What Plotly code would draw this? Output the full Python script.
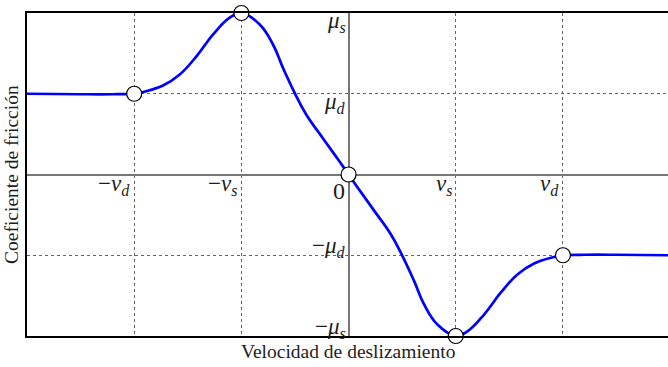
import plotly.graph_objects as go

# Friction coefficient vs sliding velocity (odd function of velocity)
velocity = [-3.0, -2.5, -2.2, -2.0, -1.917, -1.731, -1.575, -1.419, -1.264, -1.109, -1.0,
            -0.829, -0.705, -0.612, -0.503, -0.394, -0.24, -0.084, 0.0,
            0.084, 0.24, 0.394, 0.503, 0.612, 0.705, 0.829,
            1.0, 1.109, 1.264, 1.419, 1.575, 1.731, 1.917, 2.0, 2.2, 2.5, 3.0]
friction = [0.5, 0.497, 0.497, 0.5, 0.511, 0.551, 0.619, 0.732, 0.867, 0.971, 1.0,
            0.929, 0.805, 0.66, 0.505, 0.37, 0.225, 0.08, 0.0,
            -0.08, -0.225, -0.37, -0.505, -0.66, -0.805, -0.929,
            -1.0, -0.971, -0.867, -0.732, -0.619, -0.551, -0.511, -0.5, -0.497, -0.497, -0.5]

# Characteristic points marked on the curve
key_v = [-2.0, -1.0, 0.0, 1.0, 2.0]
key_mu = [0.5, 1.0, 0.0, -1.0, -0.5]

# Tick positions and their symbolic labels
x_tick_vals = [-2.0, -1.0, 1.0, 2.0]
x_tick_text = ["−<i>v</i><sub><i>d</i></sub>", "−<i>v</i><sub><i>s</i></sub>",
               "<i>v</i><sub><i>s</i></sub>", "<i>v</i><sub><i>d</i></sub>"]
y_tick_vals = [1.0, 0.5, -0.5, -1.0]
y_tick_text = ["<i>μ</i><sub><i>s</i></sub>", "<i>μ</i><sub><i>d</i></sub>",
               "−<i>μ</i><sub><i>d</i></sub>", "−<i>μ</i><sub><i>s</i></sub>"]

FONT = "'Liberation Serif', 'DejaVu Serif', serif"
INK = "#1e1e1e"

fig = go.Figure()
fig.add_trace(go.Scatter(
    x=velocity, y=friction, mode="lines",
    line=dict(color="#0000ff", width=2.7, shape="spline", smoothing=1.2),
    hoverinfo="skip", showlegend=False,
))
fig.add_trace(go.Scatter(
    x=key_v, y=key_mu, mode="markers",
    marker=dict(size=15, color="white", line=dict(color="black", width=1.2)),
    cliponaxis=False, showlegend=False,
))

annotations = []
for v, t in zip(x_tick_vals, x_tick_text):
    annotations.append(dict(x=v, y=0, xref="x", yref="y", text=t, showarrow=False,
                            xanchor="right", yanchor="middle", xshift=-2, yshift=-10,
                            font=dict(family=FONT, size=23, color=INK)))
annotations.append(dict(x=0, y=0, xref="x", yref="y", text="0", showarrow=False,
                        xanchor="right", yanchor="middle", xshift=-2, yshift=-16,
                        font=dict(family=FONT, size=24, color=INK)))
for m, t in zip(y_tick_vals, y_tick_text):
    annotations.append(dict(x=0, y=m, xref="x", yref="y", text=t, showarrow=False,
                            xanchor="right", yanchor="middle",
                            xshift=-1, yshift=-9 if m > 0 else 8,
                            font=dict(family=FONT, size=23, color=INK)))
annotations.append(dict(x=0.5, y=0, xref="paper", yref="paper", text="Velocidad de deslizamiento",
                        showarrow=False, xanchor="center", yanchor="top", yshift=-3,
                        font=dict(family=FONT, size=19.5, color=INK)))
annotations.append(dict(x=0, y=0.5, xref="paper", yref="paper", text="Coeficiente de fricción",
                        showarrow=False, textangle=-90, xanchor="right", yanchor="middle",
                        xshift=-3, font=dict(family=FONT, size=19.5, color=INK)))

fig.update_layout(
    width=668, height=367,
    margin=dict(l=27, r=0, t=13, b=31),
    paper_bgcolor="white", plot_bgcolor="white",
    font=dict(family=FONT, color=INK),
    annotations=annotations,
    xaxis=dict(range=[-3.0, 2.98], tickvals=x_tick_vals, showticklabels=False, ticks="",
               showgrid=True, gridcolor="#666", griddash="dot", gridwidth=1,
               zeroline=True, zerolinecolor="#777", zerolinewidth=2,
               showline=True, linecolor="black", linewidth=1.5, mirror=True),
    yaxis=dict(range=[-1.0, 1.0], tickvals=y_tick_vals, showticklabels=False, ticks="",
               showgrid=True, gridcolor="#666", griddash="dot", gridwidth=1,
               zeroline=True, zerolinecolor="#777", zerolinewidth=2,
               showline=True, linecolor="black", linewidth=1.5, mirror=False),
)

fig.write_html("out.html")
